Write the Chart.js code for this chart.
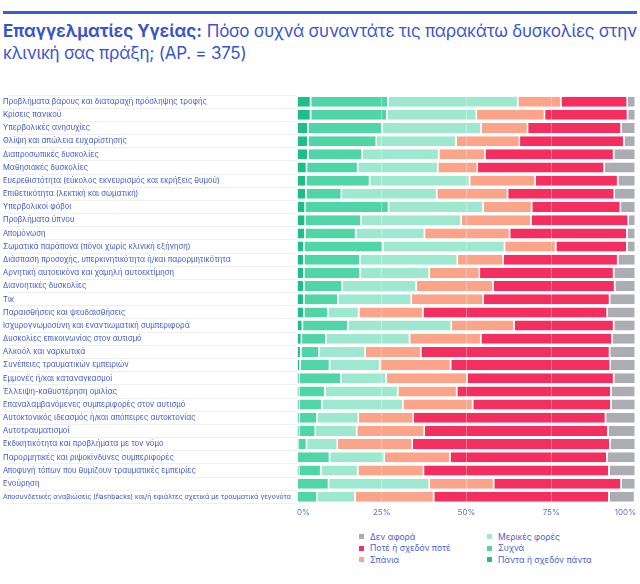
<!DOCTYPE html>
<meta charset="utf-8">
<style>
html, body {
  margin: 0;
  background: #fff;
}

.page {
  position: relative;
  width: 640px;
  height: 584px;
  font-family: Inter, "Noto Sans", sans-serif;
  color: #3a55c8;
}

.topline {
  position: absolute;
  left: 3px;
  top: 11px;
  width: 634px;
  height: 3px;
  background: #3d5bd6;
}

.title {
  position: absolute;
  left: 3px;
  top: 20px;
  width: 637px;
  font-size: 17px;
  line-height: 22px;
  color: #3a55c8;
}

.title b {
  font-weight: 700;
}

.title span {
  letter-spacing: -0.25px;
}

.chart-box {
  position: absolute;
  left: 0;
  top: 88px;
  width: 640px;
  height: 436px;
}

.legend {
  position: absolute;
  left: 359px;
  top: 531px;
  display: grid;
  grid-auto-flow: column;
  grid-template-rows: repeat(3, 11.5px);
  grid-template-columns: 128px 150px;
  font-size: 8.5px;
  color: #4a63cc;
}

.legend span.item {
  display: flex;
  align-items: center;
  white-space: nowrap;
}

.legend i {
  display: inline-block;
  width: 5px;
  height: 5px;
  margin-right: 6px;
}
</style>
<body>
<div class="page">
  <div class="topline"></div>
  <div class="title"><b>Επαγγελματίες Υγείας:</b> <span>Πόσο συχνά συναντάτε τις παρακάτω δυσκολίες στην κλινική σας πράξη; (ΑΡ. = 375)</span></div>
  <div class="chart-box"><canvas id="chart"></canvas></div>
  <div class="legend js-legend"></div>
</div>

<script src="https://cdn.jsdelivr.net/npm/chart.js@4/dist/chart.umd.min.js"></script>
<script>
"use strict";

var categories = [
  "Προβλήματα βάρους και διαταραχή πρόσληψης τροφής",
  "Κρίσεις πανικού",
  "Υπερβολικές ανησυχίες",
  "Θλίψη και απώλεια ευχαρίστησης",
  "Διαπροσωπικές δυσκολίες",
  "Μαθησιακές δυσκολίες",
  "Ευερεθιστότητα (εύκολος εκνευρισμός και εκρήξεις θυμού)",
  "Επιθετικότητα (λεκτική και σωματική)",
  "Υπερβολικοί φόβοι",
  "Προβλήματα ύπνου",
  "Απομόνωση",
  "Σωματικά παράπονα (πόνοι χωρίς κλινική εξήγηση)",
  "Διάσπαση προσοχής, υπερκινητικότητα ή/και παρορμητικότητα",
  "Αρνητική αυτοεικόνα και χαμηλή αυτοεκτίμηση",
  "Διανοητικές δυσκολίες",
  "Τικ",
  "Παραισθήσεις και ψευδαισθήσεις",
  "Ισχυρογνωμοσύνη και εναντιωματική συμπεριφορά",
  "Δυσκολίες επικοινωνίας στον αυτισμό",
  "Αλκοόλ και ναρκωτικά",
  "Συνέπειες τραυματικών εμπειριών",
  "Εμμονές ή/και καταναγκασμοί",
  "Έλλειψη-καθυστέρηση ομιλίας",
  "Επαναλαμβανόμενες συμπεριφορές στον αυτισμό",
  "Αυτοκτονικός ιδεασμός ή/και απόπειρες αυτοκτονίας",
  "Αυτοτραυματισμοί",
  "Εκδικητικότητα και προβλήματα με τον νόμο",
  "Παρορμητικές και ριψοκίνδυνες συμπεριφορές",
  "Αποφυγή τόπων που θυμίζουν τραυματικές εμπειρίες",
  "Ενούρηση",
  "Αποσυνδετικές αναβιώσεις (flashbacks) και/ή εφιάλτες σχετικά με τραυματικά γεγονότα"
];

// percentages, one value per category
var always = [4.2, 4.2, 3.4, 3.4, 3.4, 3.0, 2.8, 2.8, 2.6, 2.6, 2.5, 2.2, 2.2, 2.2, 2.2, 2.2,
  2.2, 1.8, 1.5, 1.3, 1.1, 0.8, 0.7, 0.8, 0.8, 0.8, 0.6, 0.3, 0.7, 0, 0];
var often = [22.8, 22.5, 21.9, 20.2, 16.0, 15.1, 18.8, 10.5, 24.6, 16.5, 15.0, 23.3, 16.6, 16.6, 11.3, 10.1,
  7.1, 13.4, 7.2, 5.4, 8.7, 12.4, 7.7, 6.7, 5.3, 4.8, 2.4, 9.5, 6.5, 9.5, 6.1];
var sometimes = [38.3, 26.4, 29.2, 23.5, 22.6, 23.6, 29.5, 28.1, 27.9, 29.5, 20.3, 35.9, 28.7, 20.4, 21.8, 21.6,
  9.1, 30.5, 24.7, 13.6, 14.8, 13.3, 21.5, 23.9, 12.2, 12.2, 9.1, 16.1, 10.9, 29.7, 11.2];
var rarely = [12.7, 20.1, 13.7, 18.7, 13.6, 11.7, 19.3, 20.9, 14.3, 20.6, 25.1, 15.1, 13.5, 14.8, 22.7, 21.2,
  18.9, 18.5, 21.0, 16.4, 20.9, 23.8, 17.4, 20.6, 16.2, 19.9, 22.1, 19.4, 19.4, 19.0, 23.2];
var never = [19.6, 24.5, 27.6, 30.8, 38.0, 37.4, 24.4, 31.5, 26.2, 28.7, 34.6, 21.0, 33.8, 39.6, 35.9, 37.3,
  54.4, 29.4, 38.7, 55.7, 47.1, 43.3, 45.5, 40.8, 56.7, 54.2, 58.3, 46.3, 54.7, 37.6, 51.7];
var notApplicable = [2.4, 2.3, 4.2, 3.4, 6.4, 9.2, 5.2, 6.2, 4.4, 2.1, 2.5, 2.5, 5.2, 6.4, 6.1, 7.6,
  8.3, 6.4, 6.9, 7.6, 7.4, 6.4, 7.2, 7.2, 8.8, 8.1, 7.5, 8.4, 7.8, 4.2, 7.6];

var seriesNames = [
  "Πάντα ή σχεδόν πάντα",
  "Συχνά",
  "Μερικές φορές",
  "Σπάνια",
  "Ποτέ ή σχεδόν ποτέ",
  "Δεν αφορά"
];
var seriesColors = ["#1dbf88", "#4fd5a6", "#9de8cf", "#fba48a", "#f42e5f", "#abadb3"];
var xTicks = [0, 25, 50, 75, 100];

var seriesValues = [always, often, sometimes, rarely, never, notApplicable];

var datasets = seriesValues.map(function (values, i) {
  return {
    label: seriesNames[i],
    data: values,
    backgroundColor: seriesColors[i],
    borderColor: "#fff",
    borderWidth: { top: 0, bottom: 0, left: 0, right: 1.5 },
    borderSkipped: false,
    categoryPercentage: 1,
    barPercentage: 0.76
  };
});

var chart = new Chart(document.getElementById("chart"), {
  type: "bar",
  data: { labels: categories, datasets: datasets },
  options: {
    indexAxis: "y",
    responsive: true,
    maintainAspectRatio: false,
    animation: false,
    layout: { padding: { left: 3, right: 3, top: 7, bottom: 3 } },
    plugins: {
      legend: { display: false },
      tooltip: { enabled: false }
    },
    scales: {
      x: {
        stacked: true,
        min: 0,
        max: 100,
        afterBuildTicks: function (scale) {
          scale.ticks = xTicks.map(function (v) { return { value: v }; });
        },
        grid: {
          color: "rgba(255,255,255,0.35)",
          z: 1,
          drawTicks: false
        },
        border: { display: false },
        ticks: {
          align: "inner",
          padding: 4,
          color: "#5b74d2",
          font: { family: "Inter", size: 8 },
          callback: function (v) { return v + "%"; }
        }
      },
      y: {
        stacked: true,
        afterFit: function (scale) {
          scale.width = 294;
        },
        grid: {
          drawOnChartArea: false,
          drawTicks: true,
          tickLength: 290,
          color: "#ececf1",
          lineWidth: 0.8
        },
        border: { display: false },
        ticks: {
          crossAlign: "far",
          autoSkip: false,
          color: "#3a55c8",
          font: function (ctx) {
            // the longest label is squeezed to fit beside the bars
            var size = ctx.index === categories.length - 1 ? 6.8 : 7.6;
            return { family: "Inter", size: size };
          }
        }
      }
    }
  }
});

// legend in two columns, reverse dataset order
var legendEl = document.querySelector(".js-legend");
datasets.slice().reverse().forEach(function (ds) {
  var item = document.createElement("span");
  item.className = "item";
  var box = document.createElement("i");
  box.style.background = ds.backgroundColor;
  item.appendChild(box);
  item.appendChild(document.createTextNode(ds.label));
  legendEl.appendChild(item);
});
</script>
</body>
